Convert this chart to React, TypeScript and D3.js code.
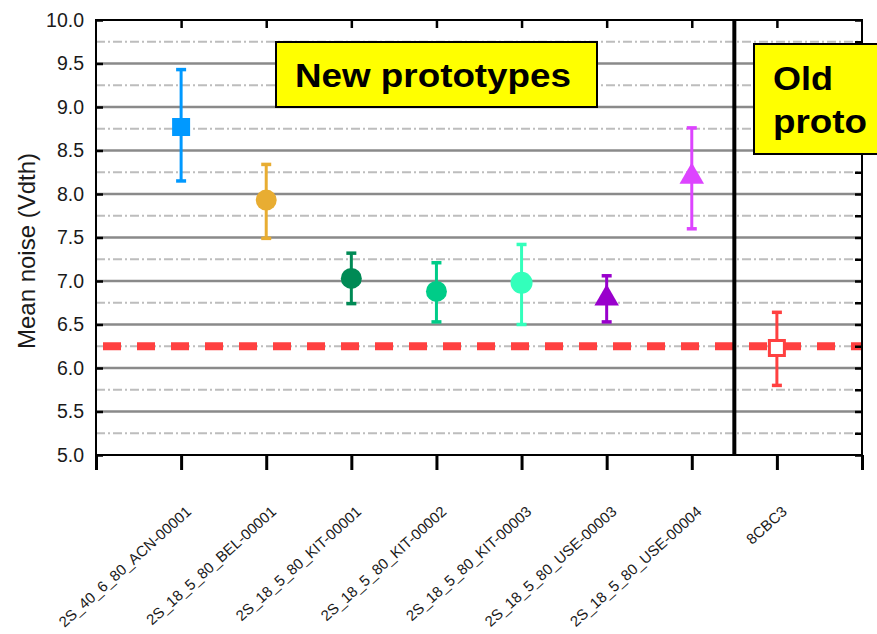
import { useEffect, useRef } from 'react';
import * as d3 from 'd3';

const categories = [
	'2S_40_6_80_ACN-00001',
	'2S_18_5_80_BEL-00001',
	'2S_18_5_80_KIT-00001',
	'2S_18_5_80_KIT-00002',
	'2S_18_5_80_KIT-00003',
	'2S_18_5_80_USE-00003',
	'2S_18_5_80_USE-00004',
	'8CBC3',
];
const means = [8.77, 7.93, 7.03, 6.88, 6.98, 6.8, 8.2, 6.23];
const upper = [9.43, 8.34, 7.32, 7.21, 7.42, 7.06, 8.76, 6.64];
const lower = [8.15, 7.49, 6.74, 6.53, 6.5, 6.53, 7.6, 5.8];
const colors = ['#0099ff', '#e8ad32', '#008a55', '#00cc88', '#33ffbb', '#9900cc', '#dd44ff', '#ff4040'];
const shapes = ['square', 'circle', 'circle', 'circle', 'circle', 'triangle', 'triangle', 'openSquare'];
const yTicks = [5.0, 5.5, 6.0, 6.5, 7.0, 7.5, 8.0, 8.5, 9.0, 9.5, 10.0];
const minorTicks = [5.25, 5.75, 6.25, 6.75, 7.25, 7.75, 8.25, 8.75, 9.25, 9.75];
const referenceLevel = 6.25;
const separatorAt = 7.5;

export default function App() {
	const svgRef = useRef<SVGSVGElement>(null);

	useEffect(() => {
		if (!svgRef.current) return;
		const width = 877;
		const height = 634;
		const margin = { top: 20, right: 15, bottom: 179, left: 96 };
		const font = 'Arial, Liberation Sans, sans-serif';

		d3.select(svgRef.current).selectAll('*').remove();
		const svg = d3.select(svgRef.current).attr('width', width).attr('height', height);

		const x = d3.scaleLinear().domain([0, 9]).range([margin.left, width - margin.right]);
		const y = d3.scaleLinear().domain([5, 10]).range([height - margin.bottom, margin.top]);
		const x0 = x(0);
		const x1 = x(9);

		// minor grid
		svg
			.append('g')
			.selectAll('line')
			.data(minorTicks)
			.enter()
			.append('line')
			.attr('x1', x0)
			.attr('x2', x1)
			.attr('y1', (d) => y(d))
			.attr('y2', (d) => y(d))
			.attr('stroke', '#bdbdbd')
			.attr('stroke-width', 2)
			.attr('stroke-dasharray', '9 3 2 3');

		// major grid
		svg
			.append('g')
			.selectAll('line')
			.data(yTicks.slice(1, -1))
			.enter()
			.append('line')
			.attr('x1', x0)
			.attr('x2', x1)
			.attr('y1', (d) => y(d))
			.attr('y2', (d) => y(d))
			.attr('stroke', '#8a8a8a')
			.attr('stroke-width', 2.5);

		// reference dashed line
		svg
			.append('line')
			.attr('x1', x0 + 7)
			.attr('x2', x1)
			.attr('y1', y(referenceLevel))
			.attr('y2', y(referenceLevel))
			.attr('stroke', '#ff4040')
			.attr('stroke-width', 8)
			.attr('stroke-dasharray', '18 16');

		// frame
		svg
			.append('rect')
			.attr('x', x0)
			.attr('y', y(10))
			.attr('width', x1 - x0)
			.attr('height', y(5) - y(10))
			.attr('fill', 'none')
			.attr('stroke', '#000')
			.attr('stroke-width', 2);

		// left axis
		svg
			.append('g')
			.attr('transform', `translate(${x0},0)`)
			.call(d3.axisLeft(y).tickValues(yTicks).tickSize(-7).tickPadding(12).tickFormat(d3.format('.1f')))
			.call((g) => g.select('.domain').remove())
			.call((g) => g.selectAll('line').attr('stroke-width', 2.5))
			.selectAll('text')
			.style('font-family', font)
			.style('font-size', '19.5px')
			.style('fill', '#1a1a1a');

		// right axis ticks
		svg
			.append('g')
			.attr('transform', `translate(${x1},0)`)
			.call(d3.axisRight(y).tickValues([...yTicks, ...minorTicks]).tickSize(-7).tickFormat(() => ''))
			.call((g) => g.select('.domain').remove())
			.call((g) => g.selectAll('line').attr('stroke-width', 2.5));

		const catTicks = d3.range(1, 9);

		// top ticks
		svg
			.append('g')
			.attr('transform', `translate(0,${y(10)})`)
			.call(d3.axisTop(x).tickValues(catTicks).tickSize(-8).tickFormat(() => ''))
			.call((g) => g.select('.domain').remove())
			.call((g) => g.selectAll('line').attr('stroke-width', 2.5));

		// bottom ticks
		svg
			.append('g')
			.attr('transform', `translate(0,${y(5)})`)
			.call(d3.axisBottom(x).tickValues(d3.range(0, 10)).tickSize(15).tickFormat(() => ''))
			.call((g) => g.select('.domain').remove())
			.call((g) => g.selectAll('line').attr('stroke-width', 3));

		// separator
		svg
			.append('line')
			.attr('x1', x(separatorAt))
			.attr('x2', x(separatorAt))
			.attr('y1', y(10))
			.attr('y2', y(5))
			.attr('stroke', '#000')
			.attr('stroke-width', 4);

		// x labels
		svg
			.append('g')
			.selectAll('text')
			.data(categories)
			.enter()
			.append('text')
			.attr('transform', (_, i) => `translate(${x(i + 1) + 11},${y(5) + 58}) rotate(-42)`)
			.attr('text-anchor', 'end')
			.style('font-family', font)
			.style('font-size', '15px')
			.style('fill', '#1a1a1a')
			.text((d) => d);

		// y label
		svg
			.append('text')
			.attr('transform', `translate(35,251) rotate(-90)`)
			.attr('text-anchor', 'middle')
			.style('font-family', font)
			.style('font-size', '24px')
			.style('fill', '#1a1a1a')
			.text('Mean noise (Vdth)');

		// error bars and markers
		const pts = svg
			.append('g')
			.selectAll('g')
			.data(means)
			.enter()
			.append('g')
			.attr('transform', (_, i) => `translate(${x(i + 1)},0)`);

		pts
			.append('line')
			.attr('y1', (_, i) => y(upper[i]))
			.attr('y2', (_, i) => y(lower[i]))
			.attr('stroke', (_, i) => colors[i])
			.attr('stroke-width', 3);
		[upper, lower].forEach((arr) => {
			pts
				.append('line')
				.attr('x1', -5)
				.attr('x2', 5)
				.attr('y1', (_, i) => y(arr[i]))
				.attr('y2', (_, i) => y(arr[i]))
				.attr('stroke', (_, i) => colors[i])
				.attr('stroke-width', 3.5);
		});

		const sym = d3.symbol<number>();
		pts.each(function (d, i) {
			const g = d3.select(this);
			const cy = y(d);
			if (shapes[i] === 'square') {
				g.append('rect').attr('x', -9).attr('y', cy - 9).attr('width', 18).attr('height', 18).attr('fill', colors[i]);
			} else if (shapes[i] === 'circle') {
				g.append('circle').attr('cy', cy).attr('r', i === 4 ? 11 : 10.5).attr('fill', colors[i]);
			} else if (shapes[i] === 'triangle') {
				g.append('path')
					.attr('transform', `translate(0,${cy})`)
					.attr('d', sym.type(d3.symbolTriangle).size(260)(0))
					.attr('fill', colors[i]);
			} else {
				g.append('rect')
					.attr('x', -7.5)
					.attr('y', cy - 7.5)
					.attr('width', 15)
					.attr('height', 15)
					.attr('fill', '#fff')
					.attr('stroke', colors[i])
					.attr('stroke-width', 3);
			}
		});

		// annotation boxes
		svg
			.append('rect')
			.attr('x', 276)
			.attr('y', 42)
			.attr('width', 321)
			.attr('height', 65)
			.attr('fill', '#ffff00')
			.attr('stroke', '#000')
			.attr('stroke-width', 2);
		svg
			.append('text')
			.attr('x', 295)
			.attr('y', 87)
			.attr('textLength', 276)
			.attr('lengthAdjust', 'spacingAndGlyphs')
			.style('font-family', font)
			.style('font-weight', 'bold')
			.style('font-size', '34px')
			.text('New prototypes');

		svg
			.append('rect')
			.attr('x', 754)
			.attr('y', 44)
			.attr('width', 130)
			.attr('height', 110)
			.attr('fill', '#ffff00')
			.attr('stroke', '#000')
			.attr('stroke-width', 2);
		['Old', 'proto'].forEach((t, i) => {
			svg
				.append('text')
				.attr('x', 773)
				.attr('y', 90 + i * 43)
				.attr('textLength', i === 0 ? 60 : 94)
				.attr('lengthAdjust', 'spacingAndGlyphs')
				.style('font-family', font)
				.style('font-weight', 'bold')
				.style('font-size', '34px')
				.text(t);
		});
	}, []);

	return (
		<div style={{ position: 'absolute', left: 0, top: 0, background: '#fff' }}>
			<svg ref={svgRef} style={{ display: 'block' }}></svg>
		</div>
	);
}
